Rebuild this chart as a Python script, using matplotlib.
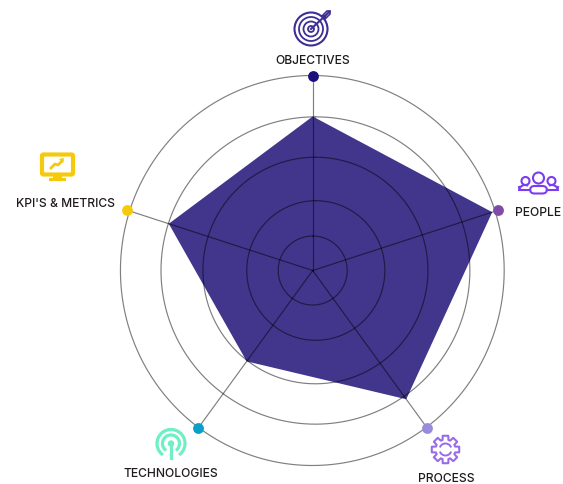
import numpy as np
import matplotlib
matplotlib.use("Agg")
import matplotlib.pyplot as plt
from matplotlib.patches import Circle, Rectangle, FancyBboxPatch, Arc, Polygon

# Data
categories = ["OBJECTIVES", "PEOPLE", "PROCESS", "TECHNOLOGIES", "KPI'S & METRICS"]
values = [3.95, 4.84, 4.08, 2.88, 3.88]
dot_colors = ["#1a0f7a", "#7f4ba6", "#9a8bdc", "#0a9fca", "#f7c90c"]

# the rings in the picture are not quite concentric or round
ring_rx = [0.885, 1.77, 2.885, 3.96, 4.92]
ring_ry = [0.885, 1.79, 2.905, 3.94, 5.0]
ring_dx = [0.0, 0.08, 0.07, 0.07, -0.01]

W, H = 563, 485
CX, CY, R = 312.7, 271.5, 195

plt.rcParams["font.family"] = ["Inter", "DejaVu Sans"]
fig = plt.figure(figsize=(W / 100, H / 100), dpi=100)

# ## Radar part
ax = fig.add_axes([(CX - R) / W, 1 - (CY + R) / H, 2 * R / W, 2 * R / H], projection="polar")
ax.set_theta_zero_location("N")
ax.set_theta_direction(-1)
ax.set_ylim(0, 5)

angles = np.linspace(0, 2 * np.pi, len(categories), endpoint=False)
closed_a = np.append(angles, angles[0])
closed_v = np.append(values, values[0])
ax.fill(closed_a, closed_v, color="#41368c", zorder=2, lw=0)

line_kw = dict(color="black", alpha=0.5, lw=0.85, zorder=3, clip_on=False)
t = np.linspace(0, 2 * np.pi, 361)
for rx, ry, dx in zip(ring_rx, ring_ry, ring_dx):
    x = dx + rx * np.sin(t)
    y = ry * np.cos(t)
    ax.plot(np.arctan2(x, y), np.hypot(x, y), **line_kw)
for a, c in zip(angles, dot_colors):
    ax.plot([a, a], [0, 5], **line_kw)
    ax.plot([a], [5], "o", color=c, ms=7.8, mew=0, zorder=5, clip_on=False)

ax.set_xticks([])
ax.set_yticks([])
ax.grid(False)
ax.spines["polar"].set_visible(False)
ax.patch.set_alpha(0)

# ## Overlay in pixel coordinates for the labels and icons
ov = fig.add_axes([0, 0, 1, 1])
ov.set_xlim(0, W)
ov.set_ylim(H, 0)
ov.axis("off")
ov.patch.set_alpha(0)

label_pos = [(312.5, 60.5), (538.5, 213.5), (446, 479.5), (171, 474.5), (65, 204.5)]
for name, (x, y) in zip(categories, label_pos):
    ov.text(x, y, name, ha="center", va="center", fontsize=8.7, color="#1f1a1c", fontweight="medium")


def ring(x, y, r, color, lw):
    ov.add_patch(Circle((x, y), r, fill=False, ec=color, lw=lw))


# target icon
navy = "#3d2f94"
for r, lw in [(16.5, 1.5), (12, 1.3), (7.5, 1.3), (3, 1.3)]:
    ring(311, 30, r, navy, lw)
ov.plot([311, 325], [30, 17], color=navy, lw=1.5)
ov.plot([322, 325, 330, 327, 322], [17, 17, 12, 12, 17], color=navy, lw=1.2)
ov.plot([325, 325, 330, 330, 325], [17, 20, 15, 12, 17], color=navy, lw=1.2)

# people icon
violet = "#7a3df0"
ring(538.5, 179, 5.5, violet, 1.5)
ring(525.5, 182, 4, violet, 1.5)
ring(551.5, 182, 4, violet, 1.5)
ov.add_patch(FancyBboxPatch((530, 187), 17, 7.5, boxstyle="round,pad=0,rounding_size=4.5",
                            fill=False, ec=violet, lw=1.5))
ov.plot([530, 520, 519], [191, 191, 188], color=violet, lw=1.5)
ov.plot([547, 557, 558], [191, 191, 188], color=violet, lw=1.5)
ov.add_patch(Arc((525, 192), 12, 12, theta1=180, theta2=300, ec=violet, lw=1.5))
ov.add_patch(Arc((552, 192), 12, 12, theta1=240, theta2=360, ec=violet, lw=1.5))

# gear icon
purple = "#9a6be8"
gx, gy = 445.5, 450.5
teeth = []
for k in range(8):
    th = k * np.pi / 4
    for d, rad in [(-0.3, 10), (-0.2, 14), (0.2, 14), (0.3, 10)]:
        teeth.append([gx + rad * np.cos(th + d), gy + rad * np.sin(th + d)])
ov.add_patch(Polygon(teeth, closed=True, fill=False, ec=purple, lw=1.5, joinstyle="round"))
ov.add_patch(Arc((gx, gy), 12, 12, theta1=20, theta2=160, ec=purple, lw=1.4))
ov.add_patch(Arc((gx, gy), 12, 12, theta1=200, theta2=340, ec=purple, lw=1.4))

# antenna icon
mint = "#6ef0c4"
ax_, ay_ = 171, 444.5
ov.add_patch(Arc((ax_, ay_), 28, 28, theta1=125, theta2=55, ec=mint, lw=2.3))
ov.add_patch(Arc((ax_, ay_), 17, 17, theta1=125, theta2=55, ec=mint, lw=2.3))
ov.add_patch(Circle((ax_, ay_), 3.2, fc=mint, ec="none"))
ov.plot([ax_, ax_], [ay_, 459], color=mint, lw=2.3)

# monitor icon
gold = "#f7c90c"
ov.add_patch(FancyBboxPatch((42, 155.5), 31, 20, boxstyle="round,pad=0,rounding_size=1.5",
                            fill=False, ec=gold, lw=3))
ov.add_patch(Rectangle((53, 176), 9, 4, fc=gold, ec="none"))
ov.add_patch(Rectangle((49, 179), 17, 2.5, fc=gold, ec="none"))
ov.plot([51, 55, 58, 62], [169, 165, 166, 162], color=gold, lw=2)
ov.add_patch(Polygon([[59, 160], [64, 159], [63, 164]], fc=gold, ec="none"))

fig.savefig("out.png", dpi=100, facecolor="white")
